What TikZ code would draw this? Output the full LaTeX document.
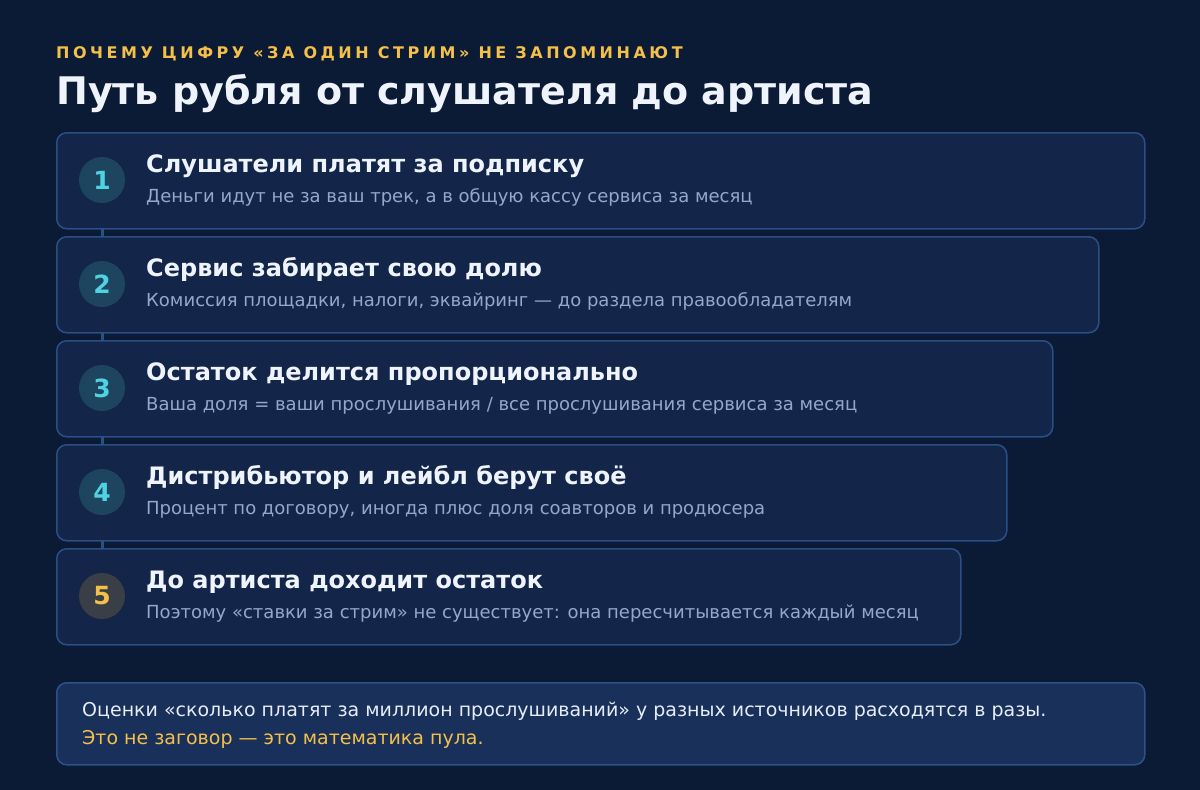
\documentclass[tikz,border=0pt]{standalone}
\usepackage{fontspec}
\setmainfont{DejaVu Sans}
\usetikzlibrary{backgrounds}
\definecolor{bg}{HTML}{0C1B35}
\definecolor{boxfill}{HTML}{13264A}
\definecolor{boxline}{HTML}{2A4F85}
\definecolor{circfill}{HTML}{1D4560}
\definecolor{numcol}{HTML}{4FD3E0}
\definecolor{gold}{HTML}{F5C04A}
\definecolor{circfive}{HTML}{3A3F47}
\definecolor{titlecol}{HTML}{EEF3FC}
\definecolor{subcol}{HTML}{93A9C9}
\definecolor{notefill}{HTML}{18305A}
\definecolor{noteline}{HTML}{2C5288}
\definecolor{notetext}{HTML}{E6EDF7}
\tikzset{
  stepbox/.style={draw=boxline, fill=boxfill, line width=1.5pt, rounded corners=10pt, minimum height=96pt, anchor=north west, inner sep=0pt},
  numcirc/.style={circle, fill=circfill, minimum size=46pt, inner sep=0pt, font=\bfseries\fontsize{25}{30}\selectfont, text=numcol},
  steptitle/.style={anchor=base west, inner sep=0pt, font=\bfseries\fontsize{24}{29}\selectfont, text=titlecol},
  stepsub/.style={anchor=base west, inner sep=0pt, font=\fontsize{18}{22}\selectfont, text=subcol},
  link/.style={draw=boxline, line width=3pt},
}
\begin{document}
\begin{tikzpicture}[x=1pt,y=-1pt]
\useasboundingbox (0,0) rectangle (1200,790);

\node[anchor=base west, inner sep=0pt, text=gold, font=\bfseries\fontsize{16}{19}\selectfont\addfontfeatures{LetterSpace=22}] (kicker) at (56,58) {ПОЧЕМУ ЦИФРУ «ЗА ОДИН СТРИМ» НЕ ЗАПОМИНАЮТ};
\node[anchor=base west, inner sep=0pt, text=titlecol, font=\bfseries\fontsize{38}{45}\selectfont] (title) at (56,104) {Путь рубля от слушателя до артиста};

\node[stepbox, minimum width=1088pt] (b1) at (56,132) {};
\node[stepbox, minimum width=1042pt] (b2) at (56,236) {};
\node[stepbox, minimum width=996pt] (b3) at (56,340) {};
\node[stepbox, minimum width=950pt] (b4) at (56,444) {};
\node[stepbox, minimum width=904pt] (b5) at (56,548) {};

\node[numcirc] (c1) at (102,180) {1};
\node[numcirc] (c2) at (102,284) {2};
\node[numcirc] (c3) at (102,388) {3};
\node[numcirc] (c4) at (102,492) {4};
\node[numcirc, fill=circfive, text=gold] (c5) at (102,596) {5};

\begin{scope}[on background layer]
\fill[bg] (0,0) rectangle (1200,790);
\draw[link] (c1.center) -- (c2.center);
\draw[link] (c2.center) -- (c3.center);
\draw[link] (c3.center) -- (c4.center);
\draw[link] (c4.center) -- (c5.center);
\end{scope}

\node[steptitle] (t1) at (146,172) {Слушатели платят за подписку};
\node[stepsub] (s1) at (146,202) {Деньги идут не за ваш трек, а в общую кассу сервиса за месяц};
\node[steptitle] (t2) at (146,276) {Сервис забирает свою долю};
\node[stepsub] (s2) at (146,306) {Комиссия площадки, налоги, эквайринг — до раздела правообладателям};
\node[steptitle] (t3) at (146,380) {Остаток делится пропорционально};
\node[stepsub] (s3) at (146,410) {Ваша доля = ваши прослушивания / все прослушивания сервиса за месяц};
\node[steptitle] (t4) at (146,484) {Дистрибьютор и лейбл берут своё};
\node[stepsub] (s4) at (146,514) {Процент по договору, иногда плюс доля соавторов и продюсера};
\node[steptitle] (t5) at (146,588) {До артиста доходит остаток};
\node[stepsub] (s5) at (146,618) {Поэтому «ставки за стрим» не существует: она пересчитывается каждый месяц};

\node[draw=noteline, fill=notefill, line width=1.5pt, rounded corners=10pt, minimum width=1088pt, minimum height=82pt, anchor=north west, inner sep=0pt] (note) at (56,682) {};
\node[anchor=base west, inner sep=0pt, text=notetext, font=\fontsize{19}{23}\selectfont] (n1) at (82,716) {Оценки «сколько платят за миллион прослушиваний» у разных источников расходятся в разы.};
\node[anchor=base west, inner sep=0pt, text=gold, font=\fontsize{19}{23}\selectfont] (n2) at (82,744) {Это не заговор — это математика пула.};
\end{tikzpicture}
\end{document}
